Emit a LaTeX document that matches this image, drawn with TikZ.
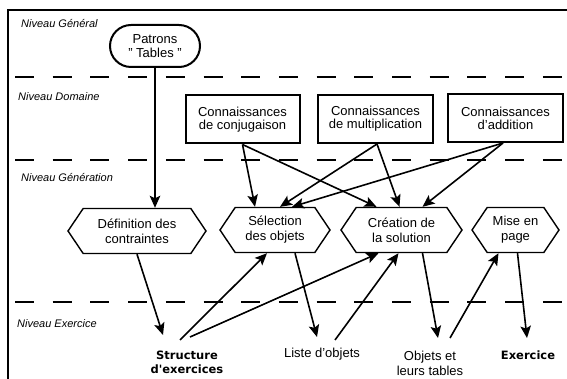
\documentclass[tikz,border=0pt]{standalone}
\usepackage{fontspec}
\setmainfont{Liberation Sans}
\newfontfamily\labelfont{DejaVu Sans}
\usetikzlibrary{shapes.symbols,shapes.misc,arrows.meta,calc}

\tikzset{
  frameline/.style={line width=2pt},
  levelline/.style={line width=2pt, dash pattern=on 19pt off 18.7pt},
  levelname/.style={anchor=west, inner sep=0pt, font=\fontsize{11}{12}\selectfont\itshape},
  source/.style={draw, line width=2pt, rounded rectangle, minimum width=90pt,
    minimum height=42pt, inner sep=0pt, align=center, font=\fontsize{13}{14}\selectfont},
  knowledge/.style={draw, line width=2pt, minimum width=114pt, minimum height=48pt,
    inner sep=0pt, align=center, font=\fontsize{13}{13}\selectfont},
  process/.style={draw, line width=1.4pt, shape=signal, signal to=west and east,
    signal pointer angle=112, minimum height=45pt, inner sep=0pt, align=center,
    font=\fontsize{13}{15}\selectfont},
  product/.style={inner sep=0pt, align=center, font=\fontsize{13}{15}\selectfont},
  finalproduct/.style={inner sep=0pt, align=center, font=\labelfont\bfseries\fontsize{11.5}{14}\selectfont},
  arr/.style={line width=1.6pt, -{Stealth[length=12pt,width=10.5pt,inset=2.5pt]}}
}

\begin{document}
\begin{tikzpicture}[x=1pt,y=-1pt]
\useasboundingbox (0,0) rectangle (567,379);

% frame
\draw[frameline] (8,379) -- (8,10) -- (567,10);

% level separators
\draw[levelline] (15,77) -- (567,77);
\draw[levelline] (15,160) -- (567,160);
\draw[levelline] (15,302) -- (567,302);

% level names
\node[levelname] (lg) at (21,24) {Niveau Général};
\node[levelname] (ld) at (18,97) {Niveau Domaine};
\node[levelname] (lgen) at (21,178) {Niveau Génération};
\node[levelname] (lex) at (17,324) {Niveau Exercice};

% general level
\node[source] (pat) at (155,46) {Patrons\\" Tables "};

% domain level
\node[knowledge] (conj) at (242.5,119.5) {Connaissances\\de conjugaison};
\node[knowledge, minimum width=115pt] (mult) at (375.5,119) {Connaissances\\de multiplication};
\node[knowledge, minimum width=115pt] (add) at (505.5,118) {Connaissances\\d'addition};

% generation level
\node[process, minimum width=138pt] (def) at (137,231) {Définition des\\contraintes};
\node[process, minimum width=110pt] (sel) at (275,230) {Sélection\\des objets};
\node[process, minimum width=121pt] (cre) at (401.5,230) {Création de\\la solution};
\node[process, minimum width=87pt] (mise) at (515.5,230) {Mise en\\page};

% exercise level
\node[finalproduct] (str) at (187,362) {Structure\\d'exercices};
\node[product] (liste) at (322,354) {Liste d'objets};
\node[product] (obj) at (430,363.5) {Objets et\\leurs tables};
\node[finalproduct] (exo) at (528,355) {Exercice};

% connectors
\draw[arr] (pat.south) -- (pat.south |- def.north);

\draw[arr] (conj.south) -- ($(sel.north)+(-20,0)$);
\draw[arr] (conj.south) -- ($(cre.north)+(-25,0)$);
\draw[arr] ($(mult.south)+(1.5,0)$) -- ($(sel.north)+(5,0)$);
\draw[arr] ($(mult.south)+(1.5,0)$) -- ($(cre.north)+(-2,0)$);
\draw[arr] ($(add.south)+(-2.5,0)$) -- ($(sel.north)+(17,0)$);
\draw[arr] ($(add.south)+(-2.5,0)$) -- ($(cre.north)+(21,0)$);

\draw[arr] (def.south) -- ($(str)+(-24,-27)$);
\draw[arr] ($(str)+(-7,-22)$) -- ($(sel.south)+(-8,0)$);
\draw[arr] ($(str)+(3,-25)$) -- ($(cre.south)+(-23,0)$);
\draw[arr] ($(sel.south)+(20,0)$) -- ($(liste)+(-5,-17)$);
\draw[arr] ($(liste)+(13,-14)$) -- ($(cre.south)+(-3,0)$);
\draw[arr] ($(cre.south)+(21,0)$) -- ($(obj)+(8,-25.5)$);
\draw[arr] ($(obj)+(20,-25.5)$) -- ($(mise.south)+(-17,0)$);
\draw[arr] ($(mise.south)+(2,0)$) -- ($(exo)+(-1,-17)$);
\end{tikzpicture}
\end{document}
